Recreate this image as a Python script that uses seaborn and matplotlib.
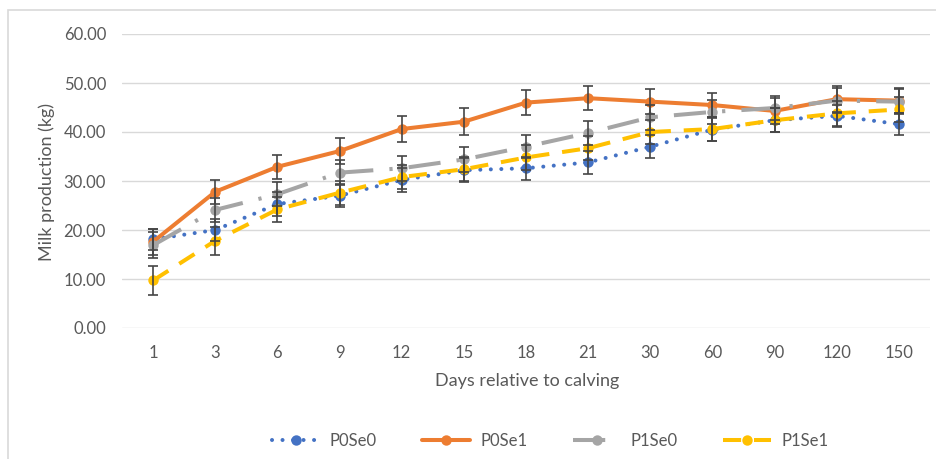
import matplotlib
matplotlib.use("Agg")
import matplotlib.pyplot as plt
import seaborn as sns
import numpy as np
import pandas as pd
from matplotlib.patches import Rectangle

days = ["1", "3", "6", "9", "12", "15", "18", "21", "30", "60", "90", "120", "150"]
p0se0 = [18.1, 20.0, 25.3, 27.0, 30.2, 32.2, 32.6, 33.8, 37.0, 40.5, 42.4, 43.3, 41.6]
p0se1 = [17.6, 27.8, 32.9, 36.1, 40.6, 42.1, 46.0, 46.9, 46.2, 45.5, 44.3, 46.7, 46.4]
p1se0 = [16.9, 24.1, 27.3, 31.7, 32.6, 34.4, 37.0, 39.8, 43.0, 44.1, 44.9, 46.4, 46.2]
p1se1 = [9.7, 17.8, 24.2, 27.6, 30.8, 32.4, 34.8, 36.7, 40.0, 40.6, 42.4, 43.8, 44.6]
err_p0se0 = [2.2, 2.2, 2.5, 2.4, 2.4, 2.4, 2.3, 2.3, 2.4, 2.4, 2.4, 2.3, 2.2]
err_p0se1 = [2.6, 2.5, 2.4, 2.6, 2.6, 2.7, 2.5, 2.5, 2.5, 2.4, 2.7, 2.6, 2.6]
err_p1se0 = [2.6, 2.4, 2.5, 2.5, 2.5, 2.5, 2.4, 2.5, 2.5, 2.4, 2.5, 2.5, 2.5]
err_p1se1 = [3.0, 2.8, 2.5, 2.5, 2.5, 2.5, 2.5, 2.5, 2.5, 2.5, 2.5, 2.5, 2.5]
series_names = ["P0Se0", "P0Se1", "P1Se0", "P1Se1"]

sns.set_theme(style="white")
plt.rcParams["font.family"] = ["Lato", "DejaVu Sans"]

fig = plt.figure(figsize=(9.37, 4.59), dpi=100)
ax = fig.add_axes([122 / 937, 1 - 328 / 459, (930 - 122) / 937, (328 - 34) / 459])

pos = np.arange(len(days))
values = [p0se0, p0se1, p1se0, p1se1]
errs = [err_p0se0, err_p0se1, err_p1se0, err_p1se1]
colors = ["#4472C4", "#ED7D31", "#A5A5A5", "#FFC000"]
dash_styles = [(0.01, 2.6), None, (8, 4, 0.8, 4), (4.5, 3.2)]
caps = ["round", "butt", "butt", "butt"]

for name, vals, err, col, ds, cap in zip(series_names, values, errs, colors, dash_styles, caps):
    df = pd.DataFrame({"x": pos, "y": vals})
    sns.lineplot(data=df, x="x", y="y", ax=ax, color=col, lw=2.9, marker="o",
                 markersize=7.5, markeredgewidth=0, label=name, zorder=3)
    line = ax.lines[-1]
    if ds is not None:
        line.set_dashes(ds)
    line.set_dash_capstyle(cap)
    ax.errorbar(pos, vals, yerr=err, fmt="none", ecolor="#454545", elinewidth=1.2,
                capsize=3.5, capthick=1.2, zorder=4)

ax.set_xlim(-0.5, len(days) - 0.5)
ax.set_ylim(0, 60)
ax.set_yticks(np.arange(0, 61, 10))
ax.set_yticklabels([f"{v:.2f}" for v in np.arange(0, 61, 10)])
ax.set_xticks(pos)
ax.set_xticklabels(days)
ax.grid(axis="y", color="#D9D9D9", lw=1)
ax.grid(axis="x", visible=False)
for s in ax.spines.values():
    s.set_visible(False)
ax.tick_params(axis="both", length=0, labelsize=12, labelcolor="#595959")
ax.tick_params(axis="y", pad=11.5)
ax.tick_params(axis="x", pad=12)
ax.set_xlabel("")
ax.set_ylabel("")

fig.text(527 / 937, 1 - 381 / 459, "Days relative to calving", ha="center", va="center",
         fontsize=13, color="#595959")
fig.text(47 / 937, 1 - 182 / 459, "Milk production (kg)", ha="center", va="center",
         rotation=90, fontsize=13, color="#595959")

ax.legend(loc="center", bbox_to_anchor=(550 / 937, 1 - 441 / 459),
          bbox_transform=fig.transFigure, ncol=4, frameon=False, fontsize=12,
          handlelength=2.9, handletextpad=0.6, columnspacing=2.7, labelcolor="#595959")

fig.patches.append(Rectangle((8 / 937, -0.05), 1.0, 1 - 10 / 459 + 0.05,
                             transform=fig.transFigure, fill=False,
                             edgecolor="#D9D9D9", lw=1.2))

fig.savefig("out.png", dpi=100)
